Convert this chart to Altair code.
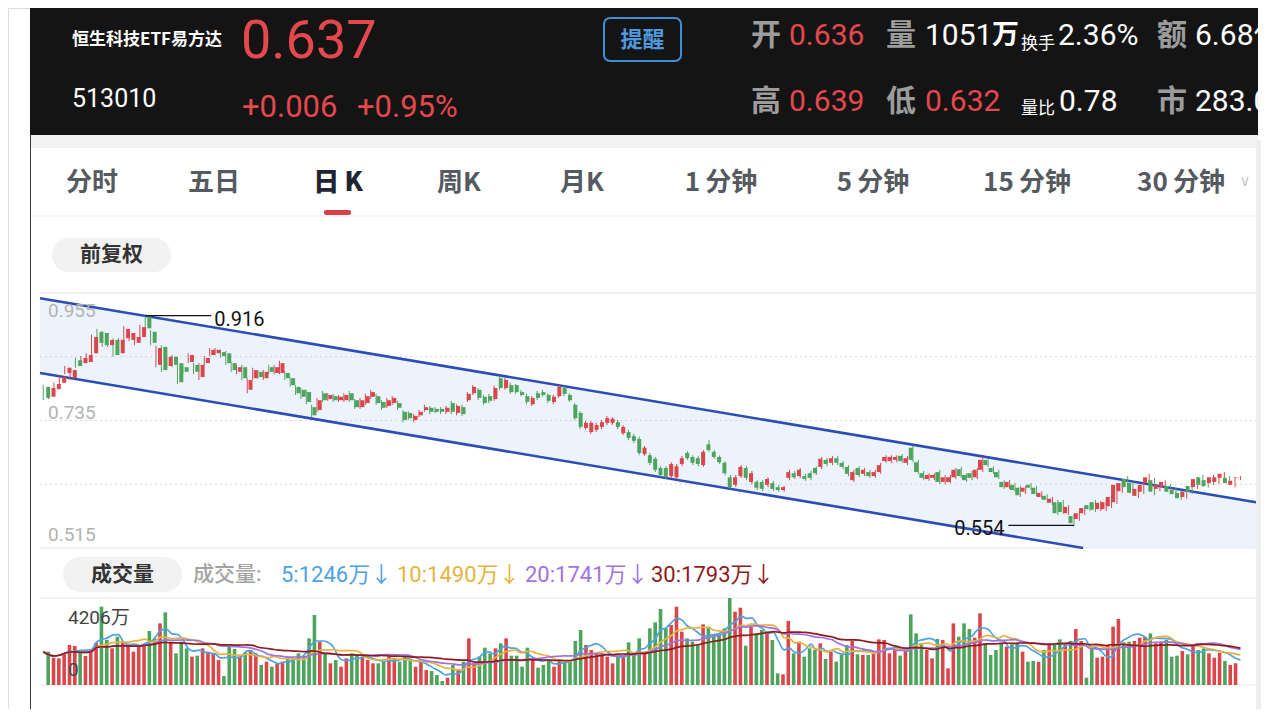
import altair as alt
import pandas as pd

# ---------------- data (prices in 0.001 yuan, volume in 万) ----------------
OPEN = [793, 776, 789, 800, 817, 808, 839, 834, 836, 851,
        888, 886, 865, 874, 851, 877, 874, 869, 879, 914,
        888, 831, 862, 829, 845, 834, 827, 836, 831, 810,
        834, 848, 851, 853, 851, 834, 819, 827, 788, 808,
        819, 808, 827, 817, 817, 817, 808, 793, 788, 784,
        758, 753, 782, 772, 777, 770, 770, 782, 770, 758,
        765, 776, 777, 767, 760, 765, 765, 750, 748, 736,
        744, 753, 757, 755, 755, 750, 765, 748, 758, 770,
        782, 788, 776, 777, 772, 808, 791, 796, 796, 784,
        777, 763, 782, 784, 779, 767, 777, 791, 779, 762,
        748, 722, 715, 719, 724, 731, 731, 732, 713, 715,
        708, 703, 677, 675, 669, 653, 653, 639, 637, 660,
        679, 672, 670, 658, 694, 681, 672, 662, 637, 624,
        639, 653, 629, 629, 629, 624, 627, 620, 615, 636,
        644, 639, 639, 644, 653, 655, 667, 662, 670, 662,
        655, 632, 653, 643, 646, 639, 646, 665, 665, 667,
        674, 662, 688, 663, 644, 634, 636, 646, 629, 629,
        637, 651, 641, 644, 637, 650, 667, 653, 646, 629,
        620, 624, 619, 612, 624, 619, 603, 605, 593, 594,
        594, 575, 570, 565, 575, 589, 594, 582, 582, 587,
        594, 613, 634, 627, 605, 612, 627, 632, 617, 620,
        622, 615, 610, 603, 622, 620, 637, 632, 627, 629,
        636, 636, 624, 636]
CLOSE = [774, 791, 798, 810, 826, 822, 829, 843, 848, 879,
         869, 865, 874, 848, 874, 893, 886, 879, 896, 894,
         869, 860, 822, 845, 831, 801, 819, 848, 819, 831,
         843, 857, 857, 846, 834, 822, 827, 808, 805, 822,
         810, 819, 819, 827, 834, 808, 796, 782, 776, 767,
         744, 770, 770, 779, 770, 776, 779, 770, 758, 770,
         777, 784, 765, 757, 770, 774, 757, 736, 739, 743,
         750, 758, 750, 750, 750, 757, 750, 760, 746, 781,
         793, 774, 765, 769, 791, 791, 805, 784, 784, 779,
         767, 774, 774, 779, 769, 776, 793, 781, 770, 739,
         724, 731, 731, 727, 732, 739, 738, 724, 724, 705,
         700, 679, 688, 662, 650, 641, 637, 660, 656, 670,
         670, 662, 660, 681, 684, 672, 663, 644, 620, 637,
         655, 636, 644, 619, 617, 634, 617, 615, 620, 646,
         637, 650, 634, 636, 644, 669, 660, 670, 662, 655,
         643, 646, 641, 650, 639, 646, 658, 672, 672, 672,
         665, 670, 667, 646, 636, 641, 641, 629, 637, 637,
         650, 639, 632, 636, 650, 667, 658, 646, 637, 620,
         629, 615, 606, 619, 619, 608, 610, 598, 600, 575,
         577, 586, 558, 575, 584, 582, 581, 593, 594, 603,
         624, 627, 620, 610, 617, 624, 637, 612, 624, 629,
         612, 608, 601, 612, 612, 634, 624, 622, 637, 637,
         643, 627, 631, 637]
HIGH = [797, 793, 801, 814, 829, 826, 843, 846, 851, 883,
        893, 889, 877, 877, 877, 898, 889, 883, 900, 916,
        891, 864, 865, 848, 848, 838, 831, 851, 834, 834,
        846, 860, 860, 857, 855, 836, 831, 831, 808, 826,
        822, 822, 831, 831, 838, 820, 810, 796, 791, 788,
        762, 774, 786, 782, 781, 779, 782, 786, 772, 774,
        781, 788, 781, 770, 774, 777, 769, 753, 751, 746,
        753, 762, 760, 758, 758, 760, 769, 763, 762, 784,
        796, 791, 779, 781, 795, 812, 808, 800, 798, 788,
        781, 777, 786, 788, 782, 779, 796, 795, 782, 765,
        751, 734, 734, 731, 736, 743, 741, 736, 727, 719,
        712, 707, 691, 679, 672, 656, 656, 663, 660, 674,
        682, 675, 674, 684, 701, 684, 675, 665, 641, 641,
        658, 656, 648, 632, 632, 637, 631, 624, 622, 650,
        648, 653, 643, 648, 656, 672, 670, 674, 674, 665,
        658, 650, 656, 653, 650, 650, 662, 675, 675, 675,
        677, 674, 691, 667, 648, 644, 644, 650, 641, 641,
        653, 655, 644, 648, 653, 672, 670, 656, 650, 632,
        632, 627, 622, 622, 627, 622, 613, 608, 603, 598,
        598, 589, 574, 579, 587, 593, 598, 596, 598, 606,
        627, 631, 639, 631, 620, 627, 643, 636, 627, 632,
        625, 619, 613, 615, 625, 637, 641, 636, 641, 641,
        646, 639, 636, 639]
LOW = [770, 772, 786, 798, 815, 805, 826, 831, 834, 848,
       851, 862, 862, 845, 848, 874, 872, 865, 877, 891,
       865, 827, 819, 826, 827, 798, 815, 834, 815, 805,
       831, 846, 848, 843, 831, 819, 815, 805, 782, 805,
       807, 805, 815, 815, 815, 805, 793, 779, 772, 763,
       741, 750, 767, 769, 767, 767, 767, 767, 755, 755,
       762, 772, 762, 753, 757, 762, 753, 732, 736, 732,
       741, 750, 746, 748, 746, 746, 746, 744, 743, 767,
       779, 770, 762, 765, 769, 788, 788, 781, 781, 777,
       763, 760, 770, 776, 765, 763, 774, 777, 767, 736,
       720, 719, 712, 715, 720, 727, 727, 720, 710, 701,
       696, 675, 674, 658, 646, 637, 634, 636, 634, 656,
       667, 658, 656, 655, 681, 669, 660, 641, 617, 620,
       636, 632, 625, 615, 613, 620, 613, 612, 612, 632,
       634, 636, 631, 632, 641, 651, 656, 658, 658, 651,
       639, 629, 637, 639, 636, 636, 643, 662, 662, 663,
       662, 658, 663, 643, 632, 631, 632, 625, 625, 627,
       634, 636, 629, 632, 634, 646, 655, 643, 634, 617,
       617, 612, 603, 608, 615, 605, 600, 594, 589, 572,
       574, 572, 554, 562, 572, 579, 577, 579, 579, 584,
       591, 610, 617, 606, 601, 608, 624, 606, 613, 617,
       608, 605, 598, 600, 608, 617, 620, 619, 624, 625,
       632, 624, 620, 632]
VOLUME = [1611, 1321, 1289, 1530, 1933, 1885, 1611, 1402, 1611, 2046,
          3786, 2175, 1772, 2336, 2094, 1933, 1611, 1933, 1965, 2610,
          2255, 2980, 3512, 2094, 1530, 2094, 1772, 1369, 1418, 1772,
          1611, 1530, 1208, 435, 1853, 1740, 1369, 1579, 1692, 1530,
          967, 1128, 886, 1047, 1128, 1369, 1289, 1530, 1369, 2255,
          3383, 2094, 1530, 1047, 1208, 886, 1289, 1530, 1450, 1369,
          1208, 1047, 1047, 1128, 1369, 1289, 1128, 1369, 1208, 886,
          1128, 725, 677, 483, 193, 354, 967, 725, 1128, 2255,
          1047, 1369, 1804, 1530, 1772, 2014, 2255, 1418, 1418, 886,
          1804, 1289, 838, 967, 1208, 886, 1208, 1128, 1128, 2127,
          2658, 1933, 1692, 1579, 1530, 1369, 1047, 1369, 1450, 2062,
          1450, 2255, 1611, 2739, 3029, 3673, 2739, 2900, 3786, 2578,
          2255, 2094, 1933, 2932, 2819, 2417, 2417, 2739, 4206, 3544,
          3738, 1901, 2819, 2497, 2658, 2578, 2175, 564, 516, 3093,
          1530, 2094, 1369, 1772, 1692, 2014, 1257, 1611, 1128, 1450,
          1933, 2127, 1482, 1450, 1450, 1514, 2207, 2175, 1530, 1692,
          1418, 1692, 3415, 2497, 1965, 1692, 1289, 2223, 2175, 806,
          2980, 2336, 2980, 2706, 2288, 3464, 2014, 1450, 1692, 2014,
          1853, 1965, 2014, 1611, 1128, 1160, 1128, 1692, 2014, 1965,
          2207, 2014, 2127, 2706, 2127, 354, 1772, 1321, 1369, 1933,
          2819, 3190, 2062, 2094, 2127, 2288, 2336, 2497, 2014, 2094,
          2175, 1369, 1418, 1643, 1482, 1933, 1692, 1772, 1530, 1321,
          1563, 1160, 967, 1051]

# trend channel drawn on the chart (index, upper price, lower price)
CH_I = [-0.6, 193.7, 225.9]
CH_UP = [946, 644, 594]
CH_LO = [817, 515, 515]

GRID = [845, 735, 625]
TABS = ['分时', '五日', '日\u2009K', '周K', '月K', '1\u2009分钟', '5\u2009分钟', '15\u2009分钟', '30\u2009分钟']
TAB_X = [92, 214, 338, 459, 582, 721, 873, 1027, 1181]
MA_N = [5, 10, 20, 30]
MA_COLORS = ['#4da2e6', '#e5b43e', '#a073e2', '#8e1c1c']
MA_TEXT = ['5:1246万↓', '10:1490万↓', '20:1741万↓', '30:1793万↓']
MA_TEXT_X = [281, 397, 525, 651]

RED = '#d9474b'
GREEN = '#4ea45c'
RED_T = '#e4484d'
CN = 'Noto Sans CJK SC'
NUM = 'Roboto, Noto Sans CJK SC'

N = len(CLOSE)
df = pd.DataFrame({'i': list(range(N)), 'o': OPEN, 'c': CLOSE,
                   'h': HIGH, 'l': LOW, 'v': VOLUME})
ch = pd.DataFrame({'i': CH_I, 'up': CH_UP, 'lo': CH_LO})

OFF = 8


def px(v):
    return v - OFF


XS = alt.Scale(domain=[-0.6, 225.9], range=[px(40), px(1256)], nice=False, zero=False)
PS = alt.Scale(domain=[515, 955], range=[px(548), px(293)], nice=False, zero=False, clamp=True)
VS = alt.Scale(domain=[0, 4206], range=[px(685), px(598)], nice=False)

DUMMY = alt.Data(values=[{'a': 1}])


def X(f='i'):
    return alt.X(f + ':Q', scale=XS, axis=None)


def YP(f):
    return alt.Y(f + ':Q', scale=PS, axis=None)


def YV(f):
    return alt.Y(f + ':Q', scale=VS, axis=None)


def T(s, x, y, size, color, weight='normal', align='left', font=CN):
    return alt.Chart(DUMMY).mark_text(
        text=s, fontSize=size, color=color, fontWeight=weight, align=align,
        baseline='middle', font=font
    ).encode(x=alt.value(px(x)), y=alt.value(px(y)))


def R(x1, y1, x2, y2, fill, cr=0):
    return alt.Chart(DUMMY).mark_rect(color=fill, cornerRadius=cr).encode(
        x=alt.value(px(x1)), x2=alt.value(px(x2)),
        y=alt.value(px(y1)), y2=alt.value(px(y2)))


def HL(x1, x2, y, color, w=1):
    return alt.Chart(DUMMY).mark_rule(color=color, strokeWidth=w).encode(
        x=alt.value(px(x1)), x2=alt.value(px(x2)), y=alt.value(px(y)))


def VL(x, y1, y2, color, w=1):
    return alt.Chart(DUMMY).mark_rule(color=color, strokeWidth=w).encode(
        x=alt.value(px(x)), y=alt.value(px(y1)), y2=alt.value(px(y2)))


updown = alt.condition('datum.c >= datum.o', alt.value(RED), alt.value(GREEN))

layers = []

# ---------- header ----------
layers.append(R(30, 0, 1258, 135, '#141414'))
layers.append(T('恒生科技ETF易方达', 72, 40, 17, '#ffffff', 'bold'))
layers.append(T('513010', 72, 99, 25, '#ffffff', 'normal', font=NUM))
layers.append(T('0.637', 241, 42, 54, RED_T, font=NUM))
layers.append(T('+0.006', 242, 108, 31, RED_T, font=NUM))
layers.append(T('+0.95%', 357, 108, 31, RED_T, font=NUM))
layers.append(alt.Chart(DUMMY).mark_rect(filled=False, color='#3f8fd8', strokeWidth=2,
                                         cornerRadius=6).encode(
    x=alt.value(px(604)), x2=alt.value(px(681)), y=alt.value(px(18)), y2=alt.value(px(61))))
layers.append(T('提醒', 642.5, 40, 22, '#4e98dc', 'bold', align='center'))

GH = '#9c9c9c'
W = '#ffffff'
for s, x, y, size, col, wt, fnt in [
    ('开', 751, 36, 30, GH, 'bold', CN), ('0.636', 789, 36, 30, RED_T, 'normal', NUM),
    ('量', 886, 36, 30, GH, 'bold', CN), ('1051', 925, 36, 30, W, 'normal', NUM),
    ('万', 992, 36, 27, W, 'bold', CN), ('换手', 1021, 44, 17, W, 'normal', CN),
    ('2.36%', 1058, 36, 30, W, 'normal', NUM), ('额', 1157, 36, 30, GH, 'bold', CN),
    ('6.68亿', 1195, 36, 30, W, 'normal', NUM),
    ('高', 751, 102, 30, GH, 'bold', CN), ('0.639', 789, 102, 30, RED_T, 'normal', NUM),
    ('低', 886, 102, 30, GH, 'bold', CN), ('0.632', 925, 102, 30, RED_T, 'normal', NUM),
    ('量比', 1021, 109, 17, W, 'normal', CN), ('0.78', 1059, 102, 30, W, 'normal', NUM),
    ('市', 1157, 102, 30, GH, 'bold', CN), ('283.05亿', 1195, 102, 30, W, 'normal', NUM),
]:
    layers.append(T(s, x, y, size, col, wt, font=fnt))

# ---------- band, tabs ----------
layers.append(R(31, 135, 1258, 148, '#f3f3f3'))
for s, x in zip(TABS, TAB_X):
    sel = s.startswith('日')
    layers.append(T(s, x, 183, 26, '#1f2530' if sel else '#555a60',
                    900 if sel else 'bold', align='center'))
layers.append(T('∨', 1245, 181, 15, '#c8c8c8', align='center', font='DejaVu Sans'))
layers.append(R(324, 210, 351, 215, '#d6424a', cr=2))
layers.append(HL(31, 1258, 216, '#ededed'))
layers.append(R(52, 238, 171, 272, '#f2f2f2', cr=17))
layers.append(T('前复权', 111.5, 255, 21, '#333333', 'bold', align='center'))

# ---------- price panel ----------
layers.append(alt.Chart(ch).mark_area(color='#edf3fc').encode(x=X(), y=YP('up'), y2='lo:Q'))
layers.append(alt.Chart(pd.DataFrame({'g': GRID})).mark_rule(
    color='#d6d6d6', strokeDash=[2, 3], strokeWidth=1).encode(
    y=YP('g'), x=alt.value(px(40)), x2=alt.value(px(1256))))
layers.append(alt.Chart(pd.DataFrame({'g': [955, 515]})).mark_rule(
    color='#e3e3e3', strokeWidth=1.2).encode(
    y=YP('g'), x=alt.value(px(40)), x2=alt.value(px(1256))))
layers.append(alt.Chart(ch).mark_line(color='#2c4db5', strokeWidth=2.6).encode(x=X(), y=YP('up')))
layers.append(alt.Chart(ch).transform_filter('datum.i < 200').mark_line(
    color='#2c4db5', strokeWidth=2.6).encode(x=X(), y=YP('lo')))

layers.append(alt.Chart(df).mark_rule(strokeWidth=1).encode(
    x=X(), y=YP('l'), y2='h:Q', color=updown))
layers.append(alt.Chart(df).mark_bar(size=4).encode(
    x=X(), y=YP('o'), y2='c:Q', color=updown))

for lab, p, dy in [('0.955', 955, 18), ('0.735', 735, -8), ('0.515', 515, -13)]:
    layers.append(alt.Chart(pd.DataFrame({'p': [p]})).mark_text(
        text=lab, fontSize=19, color='#b3b3b3', align='left', baseline='middle',
        dy=dy, font=NUM).encode(x=alt.value(px(48)), y=YP('p')))

imax = max(range(N), key=lambda k: HIGH[k])
imin = min(range(N), key=lambda k: LOW[k])
amax = pd.DataFrame({'i': [imax], 'p': [HIGH[imax]], 't': [f'{HIGH[imax] / 1000:.3f}']})
amin = pd.DataFrame({'i': [imin], 'p': [LOW[imin]], 't': [f'{LOW[imin] / 1000:.3f}']})
layers.append(alt.Chart(amax).transform_calculate(i2='datum.i + 12.3').mark_rule(
    color='#111111', strokeWidth=1.3).encode(x=X(), x2='i2:Q', y=YP('p')))
layers.append(alt.Chart(amax).transform_calculate(i2='datum.i + 12.3').mark_text(
    fontSize=20, color='#111111', align='left', baseline='middle', dx=3, dy=4,
    font=NUM).encode(x=X('i2'), y=YP('p'), text='t:N'))
layers.append(alt.Chart(amin).transform_calculate(i2='datum.i - 12.2').mark_rule(
    color='#111111', strokeWidth=1.3).encode(x=X('i2'), x2='i:Q', y=YP('p')))
layers.append(alt.Chart(amin).transform_calculate(i2='datum.i - 12.2').mark_text(
    fontSize=20, color='#111111', align='right', baseline='middle', dx=-4, dy=4,
    font=NUM).encode(x=X('i2'), y=YP('p'), text='t:N'))

# ---------- volume panel ----------
layers.append(R(63, 557, 182, 592, '#f2f2f2', cr=17))
layers.append(T('成交量', 122.5, 575, 21, '#333333', 'bold', align='center'))
layers.append(T('成交量:', 193, 575, 21, '#a3a3a3', 500, font=NUM))
for s, x, col in zip(MA_TEXT, MA_TEXT_X, MA_COLORS):
    layers.append(T(s, x, 575, 22, col, 'normal', font=NUM))
layers.append(HL(40, 1256, 598, '#e6e6e6'))
layers.append(HL(40, 1256, 685, '#ececec'))

layers.append(alt.Chart(df).mark_bar(size=3.6).encode(
    x=X(), y=YV('v'), y2=alt.datum(0), color=updown))
for n, col in zip(MA_N, MA_COLORS):
    layers.append(alt.Chart(df).transform_window(
        m='mean(v)', frame=[-(n - 1), 0], sort=[alt.SortField('i')]
    ).mark_line(color=col, strokeWidth=1.7, interpolate='monotone').encode(
        x=X(), y=YV('m')))
layers.append(T('4206万', 68, 618, 19, '#444444', font=NUM))
layers.append(T('0', 68, 670, 19, '#444444', font=NUM))

# ---------- frame edges ----------
layers.append(R(1258, 0, 1290, 717, '#ffffff'))
layers.append(R(1256, 140, 1261, 717, '#efefef'))
layers.append(VL(30.5, 135, 717, '#3a3a3a'))

chart = alt.layer(*layers).resolve_scale(
    x='independent', y='independent'
).properties(
    width=1264, height=701, padding=0,
    autosize=alt.AutoSizeParams(type='none')
).configure_view(strokeWidth=0).configure(background='#ffffff')

chart.save('out.html', embed_options={'renderer': 'svg', 'actions': False})
